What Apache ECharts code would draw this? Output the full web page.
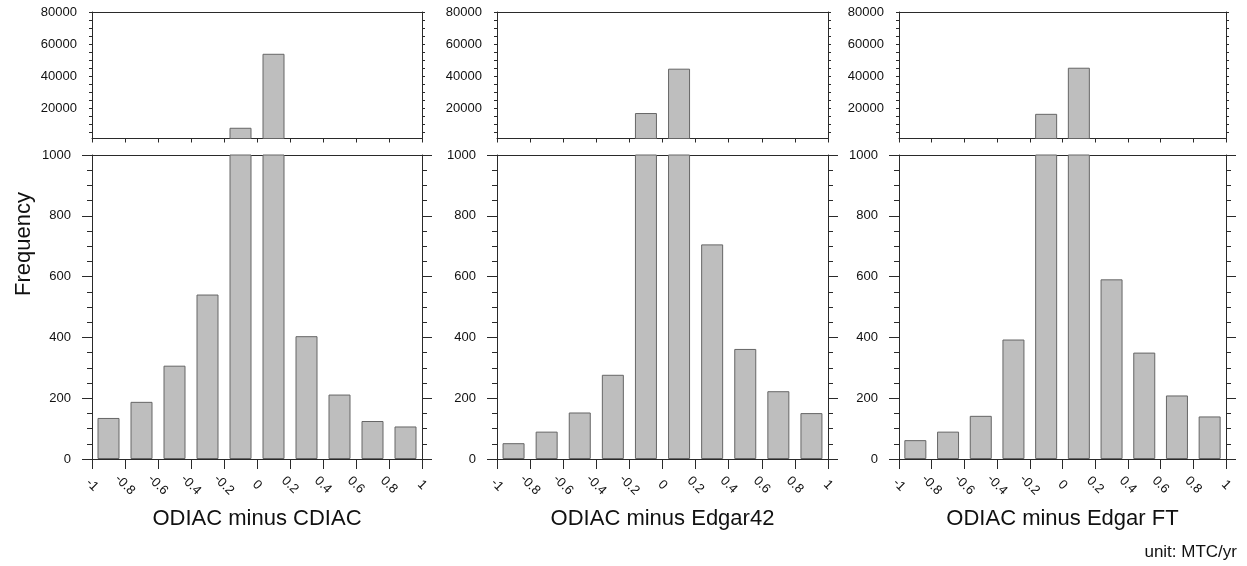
<!DOCTYPE html>
<html>
<head>
<meta charset="utf-8">
<script src="https://cdn.jsdelivr.net/npm/echarts@6/dist/echarts.min.js"></script>
<style>
html,body{margin:0;padding:0;background:#fff;}
#chart{width:1247px;height:566px;}
</style>
</head>
<body>
<div id="chart"></div>
<script>
// ---- data ----
const binCenters = [-0.9, -0.7, -0.5, -0.3, -0.1, 0.1, 0.3, 0.5, 0.7, 0.9];
const cdiacDiff   = [135, 188, 307, 541, 7700, 53900, 404, 212, 125, 107];
const edgar42Diff = [52, 90, 153, 277, 16900, 44600, 706, 362, 223, 151];
const edgarFTDiff = [62, 90, 142, 393, 16400, 45200, 591, 350, 209, 140];
const panelTitles = ['ODIAC minus CDIAC', 'ODIAC minus Edgar42', 'ODIAC minus Edgar FT'];
const topLabelValues = [20000, 40000, 60000, 80000];
const topTickValues = [5000, 10000, 15000, 20000, 25000, 30000, 35000, 40000, 45000, 50000, 55000, 60000, 65000, 70000, 75000, 80000];
const breakValue = 1000;
const yLabel = 'Frequency';
const unitText = 'unit: MTC/yr';

const allSeries = [cdiacDiff, edgar42Diff, edgarFTDiff];

// ---- layout ----
const panelLeft = [92, 497, 899];
const panelWidth = [330, 331, 327];
const topGrid = {top: 12, height: 126.5};
const botGrid = {top: 155, height: 304};

const lineColor = '#2a2a2a';
const textColor = '#111';
const font = 'Liberation Sans, Arial, Helvetica, sans-serif';
const plainNum = v => String(v);

const grids = [], xAxes = [], yAxes = [], series = [];

for (let p = 0; p < 3; p++) {
  grids.push({left: panelLeft[p], width: panelWidth[p], top: topGrid.top, height: topGrid.height});
  grids.push({left: panelLeft[p], width: panelWidth[p], top: botGrid.top, height: botGrid.height});
  const gTop = 2 * p, gBot = 2 * p + 1;

  // --- top panel axes ---
  const xTopMain = xAxes.length;
  xAxes.push({
    type: 'value', gridIndex: gTop, min: -1, max: 1, interval: 0.2, position: 'bottom',
    axisLine: {show: true, onZero: false, lineStyle: {color: lineColor, width: 1}},
    axisTick: {show: true, length: 4, lineStyle: {color: lineColor}},
    axisLabel: {show: false}, splitLine: {show: false}
  });
  xAxes.push({
    type: 'value', gridIndex: gTop, min: -1, max: 1, position: 'top',
    axisLine: {show: true, onZero: false, lineStyle: {color: lineColor, width: 1}},
    axisTick: {show: false}, axisLabel: {show: false}, splitLine: {show: false}
  });
  const yTopLeft = yAxes.length;
  yAxes.push({
    type: 'value', gridIndex: gTop, min: breakValue, max: 80000, position: 'left',
    axisLine: {show: true, onZero: false, lineStyle: {color: lineColor, width: 1}},
    axisTick: {show: true, length: 3, customValues: topTickValues, lineStyle: {color: lineColor}},
    axisLabel: {show: true, customValues: topLabelValues, margin: 15, color: textColor,
      fontFamily: font, fontSize: 13, formatter: plainNum},
    splitLine: {show: false}
  });
  yAxes.push({
    type: 'value', gridIndex: gTop, min: breakValue, max: 80000, position: 'right',
    axisLine: {show: true, onZero: false, lineStyle: {color: lineColor, width: 1}},
    axisTick: {show: true, length: 3, customValues: topTickValues, lineStyle: {color: lineColor}},
    axisLabel: {show: false}, splitLine: {show: false}
  });

  // --- bottom panel axes ---
  const xBotMain = xAxes.length;
  xAxes.push({
    type: 'value', gridIndex: gBot, min: -1, max: 1, interval: 0.2, position: 'bottom',
    axisLine: {show: true, onZero: false, lineStyle: {color: lineColor, width: 1}},
    axisTick: {show: true, length: 10, lineStyle: {color: lineColor}},
    axisLabel: {show: true, rotate: -45, align: 'center', verticalAlign: 'middle', margin: 26,
      color: textColor, fontFamily: font, fontSize: 13,
      formatter: v => String(Math.round(v * 10) / 10)},
    splitLine: {show: false}
  });
  xAxes.push({
    type: 'value', gridIndex: gBot, min: -1, max: 1, position: 'top',
    axisLine: {show: true, onZero: false, lineStyle: {color: lineColor, width: 1}},
    axisTick: {show: false}, axisLabel: {show: false}, splitLine: {show: false}
  });
  const yBotLeft = yAxes.length;
  yAxes.push({
    type: 'value', gridIndex: gBot, min: 0, max: breakValue, interval: 200, position: 'left',
    axisLine: {show: true, onZero: false, lineStyle: {color: lineColor, width: 1}},
    axisTick: {show: true, length: 10, lineStyle: {color: lineColor}},
    minorTick: {show: true, splitNumber: 4, length: 5, lineStyle: {color: lineColor}},
    axisLabel: {show: true, margin: 21, color: textColor, fontFamily: font, fontSize: 13, formatter: plainNum},
    splitLine: {show: false}, minorSplitLine: {show: false}
  });
  yAxes.push({
    type: 'value', gridIndex: gBot, min: 0, max: breakValue, interval: 200, position: 'right',
    axisLine: {show: true, onZero: false, lineStyle: {color: lineColor, width: 1}},
    axisTick: {show: true, length: 10, lineStyle: {color: lineColor}},
    minorTick: {show: true, splitNumber: 4, length: 5, lineStyle: {color: lineColor}},
    axisLabel: {show: false}, splitLine: {show: false}, minorSplitLine: {show: false}
  });

  const vals = allSeries[p];
  const barStyle = {color: '#bebebe', borderColor: '#666', borderWidth: 1};
  series.push({
    type: 'bar', xAxisIndex: xTopMain, yAxisIndex: yTopLeft, barWidth: 22, clip: true,
    itemStyle: barStyle, silent: true, animation: false,
    data: binCenters.map((x, i) => [x, vals[i] > breakValue ? vals[i] : null])
  });
  series.push({
    type: 'bar', xAxisIndex: xBotMain, yAxisIndex: yBotLeft, barWidth: 22, clip: true,
    itemStyle: barStyle, silent: true, animation: false,
    data: binCenters.map((x, i) => [x, vals[i]])
  });
}

const graphics = [];
for (let p = 0; p < 3; p++) {
  graphics.push({
    type: 'text', x: panelLeft[p] + panelWidth[p] / 2, y: 519,
    style: {text: panelTitles[p], font: '22px ' + font, fill: textColor,
      textAlign: 'center', textVerticalAlign: 'middle'}
  });
}
graphics.push({
  type: 'text', x: 24, y: 244, rotation: Math.PI / 2,
  style: {text: yLabel, font: '22px ' + font, fill: textColor,
    textAlign: 'center', textVerticalAlign: 'middle'}
});
graphics.push({
  type: 'text', x: 1237, y: 552,
  style: {text: unitText, font: '17px ' + font, fill: textColor,
    textAlign: 'right', textVerticalAlign: 'middle'}
});

const chart = echarts.init(document.getElementById('chart'), null, {renderer: 'canvas'});
chart.setOption({
  animation: false,
  backgroundColor: '#fff',
  grid: grids,
  xAxis: xAxes,
  yAxis: yAxes,
  series: series,
  graphic: graphics
});
</script>
</body>
</html>
